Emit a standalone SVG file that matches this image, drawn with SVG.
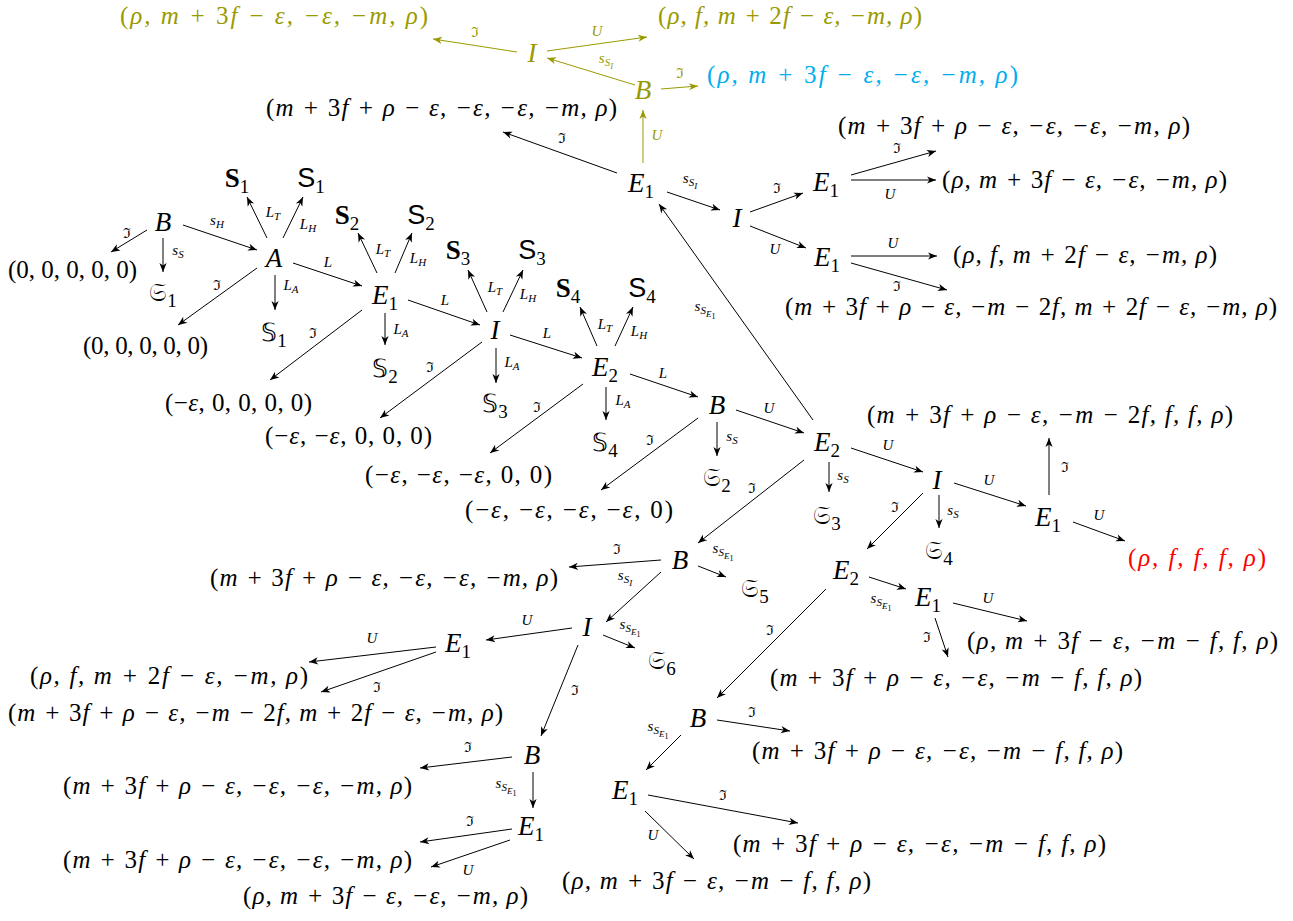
<svg xmlns="http://www.w3.org/2000/svg" width="1293" height="921" viewBox="0 0 1293 921" font-family="Liberation Serif, Times New Roman, serif">
<defs>
<style>
.t{font-family:'Liberation Serif','Times New Roman',serif;font-size:25px;font-style:italic;fill:#000}
.z{font-family:'Liberation Serif','Times New Roman',serif;font-size:25px;fill:#000}
.n{font-family:'Liberation Serif','Times New Roman',serif;font-size:27px;font-style:italic;fill:#000;text-anchor:middle}
.u{font-style:normal}
.i{font-style:italic}
.sb{font-size:19px;font-style:normal}
.l{font-family:'Liberation Serif','Times New Roman',serif;font-size:15px;font-style:italic;fill:#000;text-anchor:middle}
.im{font-style:normal;font-size:14px}
.s1{font-size:11px}
.s2{font-size:9px}
.s3{font-size:8px;font-style:normal}
.bf{font-weight:bold;font-style:normal}
.sf{font-family:'Liberation Sans',sans-serif;font-style:normal}
.ds{font-style:normal;font-size:25px}
.ol{fill:#9a9a00}
.cy{fill:#00aeef}
.rd{fill:#ff0000}
.e{stroke:#000;stroke-width:1;fill:none;marker-end:url(#ah)}
.eo{stroke:#9a9a00;stroke-width:1;fill:none;marker-end:url(#aho)}
</style>
<marker id="ah" viewBox="-10 -5 12 10" refX="0" refY="0" markerWidth="12" markerHeight="10" markerUnits="userSpaceOnUse" orient="auto"><path d="M0,0 L-9,-3.6 L-6.5,0 L-9,3.6 Z" fill="#000"/></marker>
<marker id="aho" viewBox="-10 -5 12 10" refX="0" refY="0" markerWidth="12" markerHeight="10" markerUnits="userSpaceOnUse" orient="auto"><path d="M0,0 L-9,-3.6 L-6.5,0 L-9,3.6 Z" fill="#9a9a00"/></marker>
</defs>
<rect width="1293" height="921" fill="#fff"/>

<g id="connectors">
<line class="eo" x1="517" y1="52" x2="433" y2="39"/><text font-family="Liberation Serif" class="l im ol" x="475" y="37">ℑ</text>
<line class="eo" x1="547" y1="51" x2="647" y2="37"/><text font-family="Liberation Serif" class="l ol" x="597" y="36">U</text>
<line class="eo" x1="635" y1="85" x2="547" y2="58"/><text font-family="Liberation Serif" class="l ol" x="606" y="63">s<tspan class="s1" dy="3">S</tspan><tspan class="s2" dy="3">I</tspan></text>
<line class="eo" x1="661" y1="89" x2="698" y2="86"/><text font-family="Liberation Serif" class="l im ol" x="680" y="78">ℑ</text>
<line class="eo" x1="643" y1="163" x2="643" y2="110"/><text font-family="Liberation Serif" class="l ol" x="657" y="140">U</text>

<line class="e" x1="617" y1="173" x2="503" y2="132"/><text font-family="Liberation Serif" class="l im" x="562" y="143">ℑ</text>
<line class="e" x1="667" y1="192" x2="720" y2="210"/><text font-family="Liberation Serif" class="l" x="690" y="183">s<tspan class="s1" dy="3">S</tspan><tspan class="s2" dy="3">I</tspan></text>
<line class="e" x1="750" y1="212" x2="803" y2="193"/><text font-family="Liberation Serif" class="l im" x="777" y="193">ℑ</text>
<line class="e" x1="750" y1="226" x2="806" y2="248"/><text font-family="Liberation Serif" class="l" x="775" y="254">U</text>
<line class="e" x1="851" y1="175" x2="936" y2="151"/><text font-family="Liberation Serif" class="l im" x="897" y="153">ℑ</text>
<line class="e" x1="851" y1="180" x2="936" y2="180"/><text font-family="Liberation Serif" class="l" x="890" y="199">U</text>
<line class="e" x1="851" y1="256" x2="937" y2="256"/><text font-family="Liberation Serif" class="l" x="893" y="248">U</text>
<line class="e" x1="851" y1="263" x2="947" y2="290"/><text font-family="Liberation Serif" class="l im" x="897" y="291">ℑ</text>

<line class="e" x1="147" y1="230" x2="111" y2="252"/><text font-family="Liberation Serif" class="l im" x="127" y="238">ℑ</text>
<line class="e" x1="163" y1="238" x2="163" y2="272"/><text font-family="Liberation Serif" class="l" x="178" y="255">s<tspan class="s1" dy="3">S</tspan></text>
<line class="e" x1="183" y1="225" x2="257" y2="250"/><text font-family="Liberation Serif" class="l" x="217" y="225">s<tspan class="s1" dy="3">H</tspan></text>
<line class="e" x1="267" y1="238" x2="247" y2="197"/><text font-family="Liberation Serif" class="l" x="273" y="217">L<tspan class="s1" dy="3">T</tspan></text>
<line class="e" x1="283" y1="238" x2="303" y2="197"/><text font-family="Liberation Serif" class="l" x="308" y="229">L<tspan class="s1" dy="3">H</tspan></text>
<line class="e" x1="275" y1="275" x2="275" y2="310"/><text font-family="Liberation Serif" class="l" x="291" y="290">L<tspan class="s1" dy="3">A</tspan></text>
<line class="e" x1="257" y1="268" x2="178" y2="325"/><text font-family="Liberation Serif" class="l im" x="217" y="290">ℑ</text>
<line class="e" x1="293" y1="263" x2="362" y2="286"/><text font-family="Liberation Serif" class="l" x="328" y="267">L</text>
<line class="e" x1="377" y1="273" x2="358" y2="233"/><text font-family="Liberation Serif" class="l" x="383" y="254">L<tspan class="s1" dy="3">T</tspan></text>
<line class="e" x1="395" y1="273" x2="412" y2="233"/><text font-family="Liberation Serif" class="l" x="418" y="263">L<tspan class="s1" dy="3">H</tspan></text>
<line class="e" x1="385" y1="313" x2="385" y2="345"/><text font-family="Liberation Serif" class="l" x="401" y="334">L<tspan class="s1" dy="3">A</tspan></text>
<line class="e" x1="362" y1="310" x2="270" y2="380"/><text font-family="Liberation Serif" class="l im" x="313" y="338">ℑ</text>
<line class="e" x1="408" y1="300" x2="480" y2="325"/><text font-family="Liberation Serif" class="l" x="445" y="305">L</text>
<line class="e" x1="487" y1="312" x2="468" y2="270"/><text font-family="Liberation Serif" class="l" x="495" y="292">L<tspan class="s1" dy="3">T</tspan></text>
<line class="e" x1="503" y1="312" x2="523" y2="270"/><text font-family="Liberation Serif" class="l" x="528" y="299">L<tspan class="s1" dy="3">H</tspan></text>
<line class="e" x1="496" y1="348" x2="496" y2="383"/><text font-family="Liberation Serif" class="l" x="512" y="367">L<tspan class="s1" dy="3">A</tspan></text>
<line class="e" x1="482" y1="342" x2="380" y2="418"/><text font-family="Liberation Serif" class="l im" x="430" y="372">ℑ</text>
<line class="e" x1="510" y1="335" x2="582" y2="358"/><text font-family="Liberation Serif" class="l" x="547" y="338">L</text>
<line class="e" x1="597" y1="346" x2="580" y2="307"/><text font-family="Liberation Serif" class="l" x="605" y="329">L<tspan class="s1" dy="3">T</tspan></text>
<line class="e" x1="615" y1="346" x2="633" y2="307"/><text font-family="Liberation Serif" class="l" x="639" y="336">L<tspan class="s1" dy="3">H</tspan></text>
<line class="e" x1="606" y1="387" x2="606" y2="420"/><text font-family="Liberation Serif" class="l" x="623" y="405">L<tspan class="s1" dy="3">A</tspan></text>
<line class="e" x1="583" y1="384" x2="490" y2="453"/><text font-family="Liberation Serif" class="l im" x="537" y="412">ℑ</text>
<line class="e" x1="630" y1="374" x2="698" y2="397"/><text font-family="Liberation Serif" class="l" x="663" y="378">L</text>
<line class="e" x1="717" y1="422" x2="717" y2="456"/><text font-family="Liberation Serif" class="l" x="732" y="441">s<tspan class="s1" dy="3">S</tspan></text>
<line class="e" x1="698" y1="418" x2="601" y2="490"/><text font-family="Liberation Serif" class="l im" x="650" y="445">ℑ</text>
<line class="e" x1="736" y1="410" x2="804" y2="433"/><text font-family="Liberation Serif" class="l" x="769" y="413">U</text>
<line class="e" x1="813" y1="420" x2="659" y2="204"/><text font-family="Liberation Serif" class="l" x="705" y="311">s<tspan class="s1" dy="3">S</tspan><tspan class="s2" dy="3">E</tspan><tspan class="s3" dy="2">1</tspan></text>
<line class="e" x1="829" y1="462" x2="829" y2="492"/><text font-family="Liberation Serif" class="l" x="843" y="480">s<tspan class="s1" dy="3">S</tspan></text>
<line class="e" x1="851" y1="448" x2="923" y2="472"/><text font-family="Liberation Serif" class="l" x="888" y="450">U</text>
<line class="e" x1="804" y1="460" x2="698" y2="543"/><text font-family="Liberation Serif" class="l im" x="752" y="493">ℑ</text>
<line class="e" x1="954" y1="483" x2="1026" y2="506"/><text font-family="Liberation Serif" class="l" x="989" y="485">U</text>
<line class="e" x1="939" y1="495" x2="939" y2="528"/><text font-family="Liberation Serif" class="l" x="953" y="515">s<tspan class="s1" dy="3">S</tspan></text>
<line class="e" x1="923" y1="493" x2="867" y2="549"/><text font-family="Liberation Serif" class="l im" x="895" y="512">ℑ</text>
<line class="e" x1="1049" y1="495" x2="1049" y2="438"/><text font-family="Liberation Serif" class="l im" x="1065" y="472">ℑ</text>
<line class="e" x1="1073" y1="522" x2="1125" y2="541"/><text font-family="Liberation Serif" class="l" x="1099" y="520">U</text>
<line class="e" x1="869" y1="577" x2="906" y2="589"/><text font-family="Liberation Serif" class="l" x="881" y="603">s<tspan class="s1" dy="3">S</tspan><tspan class="s2" dy="3">E</tspan><tspan class="s3" dy="2">1</tspan></text>
<line class="e" x1="826" y1="589" x2="717" y2="698"/><text font-family="Liberation Serif" class="l im" x="770" y="635">ℑ</text>
<line class="e" x1="953" y1="603" x2="1027" y2="621"/><text font-family="Liberation Serif" class="l" x="988" y="603">U</text>
<line class="e" x1="935" y1="618" x2="948" y2="657"/><text font-family="Liberation Serif" class="l im" x="927" y="642">ℑ</text>
<line class="e" x1="717" y1="720" x2="790" y2="731"/><text font-family="Liberation Serif" class="l im" x="752" y="717">ℑ</text>
<line class="e" x1="681" y1="735" x2="646" y2="770"/><text font-family="Liberation Serif" class="l" x="658" y="731">s<tspan class="s1" dy="3">S</tspan><tspan class="s2" dy="3">E</tspan><tspan class="s3" dy="2">1</tspan></text>
<line class="e" x1="648" y1="795" x2="798" y2="823"/><text font-family="Liberation Serif" class="l im" x="723" y="800">ℑ</text>
<line class="e" x1="645" y1="811" x2="694" y2="859"/><text font-family="Liberation Serif" class="l" x="653" y="840">U</text>
<line class="e" x1="661" y1="560" x2="569" y2="567"/><text font-family="Liberation Serif" class="l im" x="617" y="554">ℑ</text>
<line class="e" x1="698" y1="566" x2="726" y2="577"/><text font-family="Liberation Serif" class="l" x="723" y="553">s<tspan class="s1" dy="3">S</tspan><tspan class="s2" dy="3">E</tspan><tspan class="s3" dy="2">1</tspan></text>
<line class="e" x1="661" y1="572" x2="606" y2="622"/><text font-family="Liberation Serif" class="l" x="625" y="580">s<tspan class="s1" dy="3">S</tspan><tspan class="s2" dy="3">I</tspan></text>
<line class="e" x1="603" y1="635" x2="635" y2="648"/><text font-family="Liberation Serif" class="l" x="630" y="629">s<tspan class="s1" dy="3">S</tspan><tspan class="s2" dy="3">E</tspan><tspan class="s3" dy="2">1</tspan></text>
<line class="e" x1="572" y1="628" x2="486" y2="640"/><text font-family="Liberation Serif" class="l" x="527" y="625">U</text>
<line class="e" x1="578" y1="645" x2="541" y2="736"/><text font-family="Liberation Serif" class="l im" x="575" y="695">ℑ</text>
<line class="e" x1="436" y1="647" x2="309" y2="662"/><text font-family="Liberation Serif" class="l" x="372" y="643">U</text>
<line class="e" x1="436" y1="652" x2="321" y2="692"/><text font-family="Liberation Serif" class="l im" x="377" y="692">ℑ</text>
<line class="e" x1="512" y1="757" x2="420" y2="768"/><text font-family="Liberation Serif" class="l im" x="468" y="752">ℑ</text>
<line class="e" x1="533" y1="772" x2="533" y2="808"/><text font-family="Liberation Serif" class="l" x="506" y="788">s<tspan class="s1" dy="3">S</tspan><tspan class="s2" dy="3">E</tspan><tspan class="s3" dy="2">1</tspan></text>
<line class="e" x1="512" y1="829" x2="420" y2="842"/><text font-family="Liberation Serif" class="l im" x="470" y="826">ℑ</text>
<line class="e" x1="510" y1="840" x2="431" y2="867"/><text font-family="Liberation Serif" class="l" x="468" y="875">U</text>
</g>

<g id="n-T1"><text font-family="Liberation Serif" class="t ol" x="120" y="24" textLength="308"><tspan class="u">(</tspan>ρ, m + <tspan class="u">3</tspan>f − ε, −ε, −m, ρ<tspan class="u">)</tspan></text></g>
<g id="n-T2"><text font-family="Liberation Serif" class="t ol" x="658" y="24" textLength="264"><tspan class="u">(</tspan>ρ, f, m + <tspan class="u">2</tspan>f − ε, −m, ρ<tspan class="u">)</tspan></text></g>
<g id="n-Itop"><text font-family="Liberation Serif" class="n ol" x="532" y="62">I</text></g>
<g id="n-Btop"><text font-family="Liberation Serif" class="n ol" x="643" y="99">B</text></g>
<g id="n-T3"><text font-family="Liberation Serif" class="t cy" x="707" y="83" textLength="311"><tspan class="u">(</tspan>ρ, m + <tspan class="u">3</tspan>f − ε, −ε, −m, ρ<tspan class="u">)</tspan></text></g>

<g id="n-T4"><text font-family="Liberation Serif" class="t" x="266" y="116" textLength="351"><tspan class="u">(</tspan>m + <tspan class="u">3</tspan>f + ρ − ε, −ε, −ε, −m, ρ<tspan class="u">)</tspan></text></g>
<g id="n-E1a"><text font-family="Liberation Serif" class="n" x="641" y="192">E<tspan class="sb" dy="6">1</tspan></text></g>
<g id="n-I1"><text font-family="Liberation Serif" class="n" x="737" y="227">I</text></g>
<g id="n-E1b"><text font-family="Liberation Serif" class="n" x="826" y="191">E<tspan class="sb" dy="6">1</tspan></text></g>
<g id="n-E1c"><text font-family="Liberation Serif" class="n" x="827" y="266">E<tspan class="sb" dy="6">1</tspan></text></g>
<g id="n-T5"><text font-family="Liberation Serif" class="t" x="838" y="134" textLength="352"><tspan class="u">(</tspan>m + <tspan class="u">3</tspan>f + ρ − ε, −ε, −ε, −m, ρ<tspan class="u">)</tspan></text></g>
<g id="n-T6"><text font-family="Liberation Serif" class="t" x="942" y="188" textLength="285"><tspan class="u">(</tspan>ρ, m + <tspan class="u">3</tspan>f − ε, −ε, −m, ρ<tspan class="u">)</tspan></text></g>
<g id="n-T7"><text font-family="Liberation Serif" class="t" x="953" y="263" textLength="264"><tspan class="u">(</tspan>ρ, f, m + <tspan class="u">2</tspan>f − ε, −m, ρ<tspan class="u">)</tspan></text></g>
<g id="n-T8"><text font-family="Liberation Serif" class="t" x="785" y="315" textLength="492"><tspan class="u">(</tspan>m + <tspan class="u">3</tspan>f + ρ − ε, −m − <tspan class="u">2</tspan>f, m + <tspan class="u">2</tspan>f − ε, −m, ρ<tspan class="u">)</tspan></text></g>

<g id="n-B1"><text font-family="Liberation Serif" class="n" x="163" y="231">B</text></g>
<g id="n-T9"><text font-family="Liberation Serif" class="z" x="8" y="278" textLength="129">(0, 0, 0, 0, 0)</text></g>
<g id="n-G1"><text font-family="Liberation Serif" class="n" x="163" y="301"><tspan class="ds">𝔖</tspan><tspan class="sb" dy="6">1</tspan></text></g>
<g id="n-A"><text font-family="Liberation Serif" class="n" x="274" y="267">A</text></g>
<g id="n-S1b"><text font-family="Liberation Serif" class="n" x="237" y="187"><tspan class="bf">S</tspan><tspan class="sb" dy="6">1</tspan></text></g>
<g id="n-S1s"><text font-family="Liberation Serif" class="n" x="311" y="187"><tspan class="sf" font-family="Liberation Sans">S</tspan><tspan class="sb" dy="6">1</tspan></text></g>
<g id="n-D1"><text font-family="Liberation Serif" class="n" x="274" y="341"><tspan class="ds">𝕊</tspan><tspan class="sb" dy="6">1</tspan></text></g>
<g id="n-T10"><text font-family="Liberation Serif" class="z" x="83" y="354" textLength="125">(0, 0, 0, 0, 0)</text></g>
<g id="n-E1"><text font-family="Liberation Serif" class="n" x="385" y="304">E<tspan class="sb" dy="6">1</tspan></text></g>
<g id="n-S2b"><text font-family="Liberation Serif" class="n" x="347" y="224"><tspan class="bf">S</tspan><tspan class="sb" dy="6">2</tspan></text></g>
<g id="n-S2s"><text font-family="Liberation Serif" class="n" x="421" y="224"><tspan class="sf" font-family="Liberation Sans">S</tspan><tspan class="sb" dy="6">2</tspan></text></g>
<g id="n-D2"><text font-family="Liberation Serif" class="n" x="385" y="377"><tspan class="ds">𝕊</tspan><tspan class="sb" dy="6">2</tspan></text></g>
<g id="n-T11"><text font-family="Liberation Serif" class="z" x="165" y="411" textLength="147">(−<tspan class="i">ε</tspan>, 0, 0, 0, 0)</text></g>
<g id="n-I2"><text font-family="Liberation Serif" class="n" x="495" y="339">I</text></g>
<g id="n-S3b"><text font-family="Liberation Serif" class="n" x="458" y="259"><tspan class="bf">S</tspan><tspan class="sb" dy="6">3</tspan></text></g>
<g id="n-S3s"><text font-family="Liberation Serif" class="n" x="532" y="259"><tspan class="sf" font-family="Liberation Sans">S</tspan><tspan class="sb" dy="6">3</tspan></text></g>
<g id="n-D3"><text font-family="Liberation Serif" class="n" x="495" y="412"><tspan class="ds">𝕊</tspan><tspan class="sb" dy="6">3</tspan></text></g>
<g id="n-T12"><text font-family="Liberation Serif" class="z" x="265" y="444" textLength="167">(−<tspan class="i">ε</tspan>, −<tspan class="i">ε</tspan>, 0, 0, 0)</text></g>
<g id="n-E2"><text font-family="Liberation Serif" class="n" x="605" y="376">E<tspan class="sb" dy="6">2</tspan></text></g>
<g id="n-S4b"><text font-family="Liberation Serif" class="n" x="568" y="297"><tspan class="bf">S</tspan><tspan class="sb" dy="6">4</tspan></text></g>
<g id="n-S4s"><text font-family="Liberation Serif" class="n" x="642" y="297"><tspan class="sf" font-family="Liberation Sans">S</tspan><tspan class="sb" dy="6">4</tspan></text></g>
<g id="n-D4"><text font-family="Liberation Serif" class="n" x="605" y="451"><tspan class="ds">𝕊</tspan><tspan class="sb" dy="6">4</tspan></text></g>
<g id="n-T13"><text font-family="Liberation Serif" class="z" x="365" y="483" textLength="187">(−<tspan class="i">ε</tspan>, −<tspan class="i">ε</tspan>, −<tspan class="i">ε</tspan>, 0, 0)</text></g>
<g id="n-B2"><text font-family="Liberation Serif" class="n" x="717" y="414">B</text></g>
<g id="n-G2"><text font-family="Liberation Serif" class="n" x="717" y="486"><tspan class="ds">𝔖</tspan><tspan class="sb" dy="6">2</tspan></text></g>
<g id="n-T14"><text font-family="Liberation Serif" class="z" x="465" y="518" textLength="208">(−<tspan class="i">ε</tspan>, −<tspan class="i">ε</tspan>, −<tspan class="i">ε</tspan>, −<tspan class="i">ε</tspan>, 0)</text></g>

<g id="n-E2b"><text font-family="Liberation Serif" class="n" x="827" y="451">E<tspan class="sb" dy="6">2</tspan></text></g>
<g id="n-G3"><text font-family="Liberation Serif" class="n" x="827" y="524"><tspan class="ds">𝔖</tspan><tspan class="sb" dy="6">3</tspan></text></g>
<g id="n-I3"><text font-family="Liberation Serif" class="n" x="937" y="489">I</text></g>
<g id="n-G4"><text font-family="Liberation Serif" class="n" x="939" y="559"><tspan class="ds">𝔖</tspan><tspan class="sb" dy="6">4</tspan></text></g>
<g id="n-E1d"><text font-family="Liberation Serif" class="n" x="1048" y="526">E<tspan class="sb" dy="6">1</tspan></text></g>
<g id="n-T15"><text font-family="Liberation Serif" class="t" x="867" y="423" textLength="366"><tspan class="u">(</tspan>m + <tspan class="u">3</tspan>f + ρ − ε, −m − <tspan class="u">2</tspan>f, f, f, ρ<tspan class="u">)</tspan></text></g>
<g id="n-T16"><text font-family="Liberation Serif" class="t rd" x="1128" y="566" textLength="138"><tspan class="u">(</tspan>ρ, f, f, f, ρ<tspan class="u">)</tspan></text></g>
<g id="n-E2c"><text font-family="Liberation Serif" class="n" x="846" y="579">E<tspan class="sb" dy="6">2</tspan></text></g>
<g id="n-E1e"><text font-family="Liberation Serif" class="n" x="928" y="606">E<tspan class="sb" dy="6">1</tspan></text></g>
<g id="n-T17"><text font-family="Liberation Serif" class="t" x="967" y="649" textLength="311"><tspan class="u">(</tspan>ρ, m + <tspan class="u">3</tspan>f − ε, −m − f, f, ρ<tspan class="u">)</tspan></text></g>
<g id="n-T18"><text font-family="Liberation Serif" class="t" x="770" y="686" textLength="372"><tspan class="u">(</tspan>m + <tspan class="u">3</tspan>f + ρ − ε, −ε, −m − f, f, ρ<tspan class="u">)</tspan></text></g>
<g id="n-B3"><text font-family="Liberation Serif" class="n" x="698" y="727">B</text></g>
<g id="n-T19"><text font-family="Liberation Serif" class="t" x="752" y="759" textLength="371"><tspan class="u">(</tspan>m + <tspan class="u">3</tspan>f + ρ − ε, −ε, −m − f, f, ρ<tspan class="u">)</tspan></text></g>
<g id="n-E1f"><text font-family="Liberation Serif" class="n" x="625" y="799">E<tspan class="sb" dy="6">1</tspan></text></g>
<g id="n-T20"><text font-family="Liberation Serif" class="t" x="733" y="852" textLength="373"><tspan class="u">(</tspan>m + <tspan class="u">3</tspan>f + ρ − ε, −ε, −m − f, f, ρ<tspan class="u">)</tspan></text></g>
<g id="n-T21"><text font-family="Liberation Serif" class="t" x="562" y="889" textLength="309"><tspan class="u">(</tspan>ρ, m + <tspan class="u">3</tspan>f − ε, −m − f, f, ρ<tspan class="u">)</tspan></text></g>

<g id="n-B4"><text font-family="Liberation Serif" class="n" x="680" y="569">B</text></g>
<g id="n-T22"><text font-family="Liberation Serif" class="t" x="210" y="586" textLength="348"><tspan class="u">(</tspan>m + <tspan class="u">3</tspan>f + ρ − ε, −ε, −ε, −m, ρ<tspan class="u">)</tspan></text></g>
<g id="n-G5"><text font-family="Liberation Serif" class="n" x="755" y="597"><tspan class="ds">𝔖</tspan><tspan class="sb" dy="6">5</tspan></text></g>
<g id="n-I4"><text font-family="Liberation Serif" class="n" x="587" y="636">I</text></g>
<g id="n-G6"><text font-family="Liberation Serif" class="n" x="662" y="669"><tspan class="ds">𝔖</tspan><tspan class="sb" dy="6">6</tspan></text></g>
<g id="n-E1g"><text font-family="Liberation Serif" class="n" x="458" y="652">E<tspan class="sb" dy="6">1</tspan></text></g>
<g id="n-T23"><text font-family="Liberation Serif" class="t" x="30" y="684" textLength="278"><tspan class="u">(</tspan>ρ, f, m + <tspan class="u">2</tspan>f − ε, −m, ρ<tspan class="u">)</tspan></text></g>
<g id="n-T24"><text font-family="Liberation Serif" class="t" x="8" y="721" textLength="495"><tspan class="u">(</tspan>m + <tspan class="u">3</tspan>f + ρ − ε, −m − <tspan class="u">2</tspan>f, m + <tspan class="u">2</tspan>f − ε, −m, ρ<tspan class="u">)</tspan></text></g>
<g id="n-B5"><text font-family="Liberation Serif" class="n" x="532" y="764">B</text></g>
<g id="n-T25"><text font-family="Liberation Serif" class="t" x="63" y="794" textLength="349"><tspan class="u">(</tspan>m + <tspan class="u">3</tspan>f + ρ − ε, −ε, −ε, −m, ρ<tspan class="u">)</tspan></text></g>
<g id="n-E1h"><text font-family="Liberation Serif" class="n" x="531" y="835">E<tspan class="sb" dy="6">1</tspan></text></g>
<g id="n-T26"><text font-family="Liberation Serif" class="t" x="63" y="868" textLength="349"><tspan class="u">(</tspan>m + <tspan class="u">3</tspan>f + ρ − ε, −ε, −ε, −m, ρ<tspan class="u">)</tspan></text></g>
<g id="n-T27"><text font-family="Liberation Serif" class="t" x="243" y="904" textLength="285"><tspan class="u">(</tspan>ρ, m + <tspan class="u">3</tspan>f − ε, −ε, −m, ρ<tspan class="u">)</tspan></text></g>
</svg>
